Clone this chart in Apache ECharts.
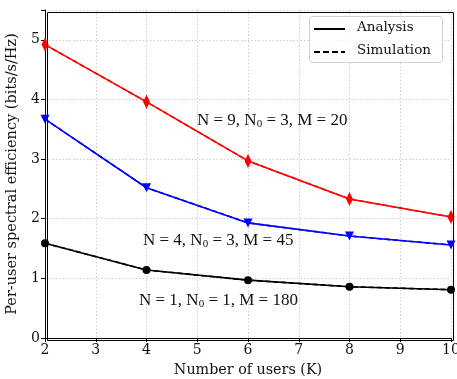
<!DOCTYPE html>
<html><head><meta charset="utf-8">
<script src="https://cdn.jsdelivr.net/npm/echarts@6/dist/echarts.min.js"></script>
<style>html,body{margin:0;padding:0;background:#fff}#c{width:457px;height:379px}</style>
</head><body><div id="c"></div>
<script>
const users = [2, 4, 6, 8, 10];
const redVals = [4.92, 3.96, 2.97, 2.33, 2.03];
const blueVals = [3.67, 2.52, 1.93, 1.71, 1.56];
const blackVals = [1.59, 1.14, 0.97, 0.86, 0.81];
const xTicks = [2, 3, 4, 5, 6, 7, 8, 9, 10];
const yTicks = [0, 1, 2, 3, 4, 5];

const font = 'DejaVu Serif';
const chart = echarts.init(document.getElementById('c'));
function pairs(v){ return users.map((u,i)=>[u,v[i]]); }
function mk(name, color, vals, symbol, size, dashed){
  return {
    type:'line', name, data:pairs(vals), symbol: dashed ? 'none' : symbol, symbolSize:size,
    lineStyle:{color, width:1.6, type: dashed ? [5,3] : 'solid'},
    itemStyle:{color}, z: dashed ? 3 : 2, animation:false
  };
}
const diamond = 'path://M0,-10L3,0L0,10L-3,0Z';
const rich = {a:{fontFamily:'Liberation Serif', fontSize:17, fill:'#111'}, s:{fontFamily:'Liberation Serif', fontSize:11, fill:'#111', verticalAlign:'bottom', padding:[7,0,0,0]}};
chart.setOption({
  animation:false,
  grid:{left:45, right:6, top:10, bottom:41, containLabel:false, outerBoundsMode:'none'},
  xAxis:{type:'value', min:2, max:10, interval:1,
    axisLine:{onZero:false, lineStyle:{color:'#000'}},
    axisTick:{show:true, length:4, lineStyle:{color:'#000'}},
    axisLabel:{color:'#111', fontFamily:font, fontSize:14, margin:5},
    splitLine:{show:true, lineStyle:{color:'#cfcfcf', type:[1.5,2]}},
    name:'Number of users (K)', nameLocation:'middle', nameGap:25,
    nameTextStyle:{color:'#111', fontFamily:font, fontSize:14.3}},
  yAxis:{type:'value', min:0, max:5.5, interval:1,
    axisLine:{show:true, lineStyle:{color:'#000'}},
    axisTick:{show:true, length:4, lineStyle:{color:'#000'}},
    axisLabel:{color:'#111', fontFamily:font, fontSize:14, margin:5,
      formatter:v=> yTicks.includes(v) ? String(v) : ''},
    splitLine:{show:true, lineStyle:{color:'#cfcfcf', type:[1.5,2]}},
    name:'Per-user spectral efficiency (bits/s/Hz)', nameLocation:'middle', nameGap:21,
    nameTextStyle:{color:'#111', fontFamily:font, fontSize:14.5}},
  series:[
    mk('r', '#ff0000', redVals, diamond, [7,14], false),
    mk('r2', '#ff0000', redVals, diamond, [7,14], true),
    mk('b', '#0000ff', blueVals, 'triangle', 9, false),
    mk('b2', '#0000ff', blueVals, 'triangle', 9, true),
    mk('k', '#000000', blackVals, 'circle', 8, false),
    mk('k2', '#000000', blackVals, 'circle', 8, true)
  ].map(s=>{ if(s.symbol==='triangle') s.symbolRotate=180; return s; }),
  graphic:[
    {type:'rect', shape:{x:0,y:0,width:451-45,height:338-10}, left:45, top:10, silent:true,
      style:{fill:'none', stroke:'#000', lineWidth:1}, z:10},
    {type:'rect', shape:{x:309.5,y:16.5,width:133,height:46,r:3}, style:{fill:'rgba(255,255,255,0.85)', stroke:'#d0d0d0', lineWidth:1}, z:20},
    {type:'line', shape:{x1:314,y1:29,x2:345,y2:29}, style:{stroke:'#000', lineWidth:2}, z:21},
    {type:'line', shape:{x1:314,y1:52,x2:345,y2:52}, style:{stroke:'#000', lineWidth:2, lineDash:[6,3]}, z:21},
    {type:'text', left:357, top:20, style:{text:'Analysis', font:'13.5px "DejaVu Serif"', fill:'#111'}, z:21},
    {type:'text', left:357, top:43, style:{text:'Simulation', font:'13.5px "DejaVu Serif"', fill:'#111'}, z:21},
    {type:'text', left:197, top:112, z:21, style:{text:'{a|N = 9, N}{s|0}{a| = 3, M = 20}', rich}},
    {type:'text', left:143, top:232, z:21, style:{text:'{a|N = 4, N}{s|0}{a| = 3, M = 45}', rich}},
    {type:'text', left:139, top:292, z:21, style:{text:'{a|N = 1, N}{s|0}{a| = 1, M = 180}', rich}}
  ]
});
</script></body></html>
